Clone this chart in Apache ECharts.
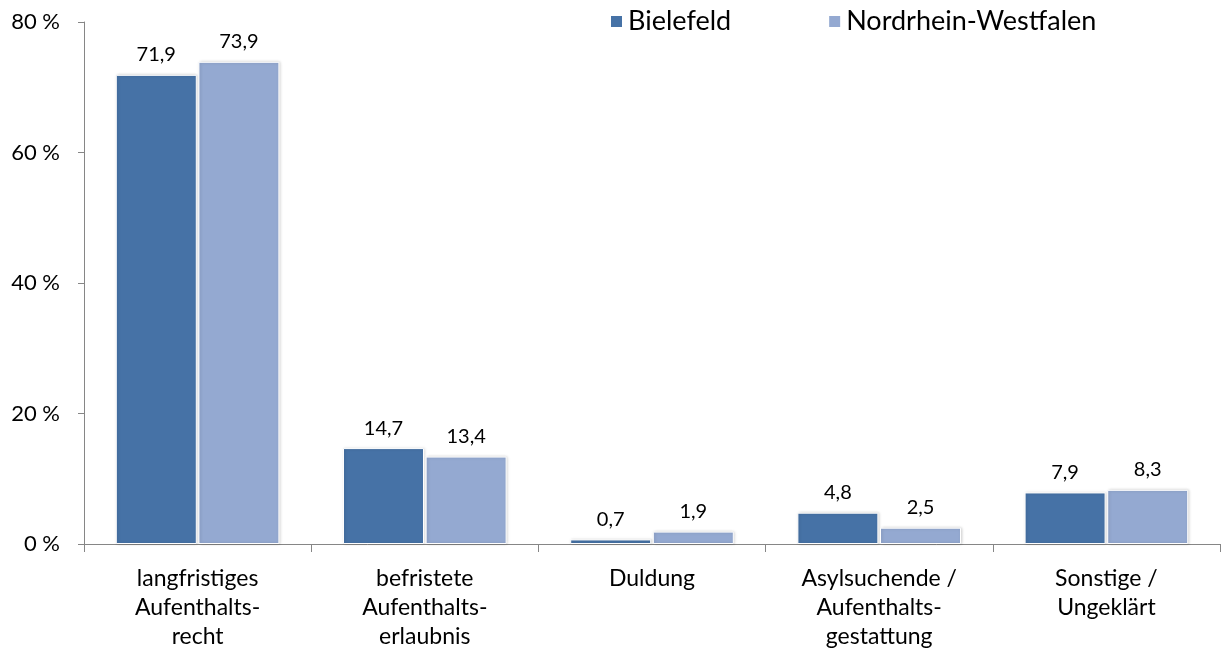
<!DOCTYPE html>
<html>
<head>
<meta charset="utf-8">
<script src="https://cdn.jsdelivr.net/npm/echarts@6/dist/echarts.min.js"></script>
<style>
  html, body { margin: 0; padding: 0; background: #fff; }
  #chart { width: 1221px; height: 652px; }
</style>
</head>
<body>
<div id="chart"></div>
<script>
// Kategorien und Werte (Prozent)
const categories = [
  'langfristiges\nAufenthalts-\nrecht',
  'befristete\nAufenthalts-\nerlaubnis',
  'Duldung',
  'Asylsuchende /\nAufenthalts-\ngestattung',
  'Sonstige /\nUngeklärt'
]
const bielefeld = [71.9, 14.7, 0.7, 4.8, 7.9]
const nrw = [73.9, 13.4, 1.9, 2.5, 8.3]
const yTicks = [0, 20, 40, 60, 80]

const font = 'Lato, Open Sans, sans-serif'

const barLabel = {
  show: true,
  position: 'top',
  distance: 10,
  color: '#000',
  fontSize: 20,
  fontFamily: font,
  formatter: p => String(p.value).replace('.', ',')
}

const barStyle = color => ({
  color: color,
  borderColor: '#fff',
  borderWidth: 1,
  shadowColor: 'rgba(0,0,0,0.18)',
  shadowBlur: 3,
  shadowOffsetX: 1
})

const chart = echarts.init(document.getElementById('chart'))
chart.setOption({
  animation: false,
  legend: {
    top: 3,
    left: 604,
    itemWidth: 13,
    itemHeight: 13,
    itemGap: 96,
    icon: 'rect',
    textStyle: { fontSize: 27, fontFamily: font, color: '#000' },
    data: ['Bielefeld', 'Nordrhein-Westfalen']
  },
  grid: { left: 84, right: 1, top: 22, bottom: 108, containLabel: false },
  xAxis: {
    type: 'category',
    data: categories,
    axisLine: { lineStyle: { color: '#868686' } },
    axisTick: { show: true, length: 8, lineStyle: { color: '#868686' } },
    axisLabel: {
      interval: 0,
      margin: 20,
      color: '#000',
      fontSize: 23,
      lineHeight: 29,
      fontFamily: font
    }
  },
  yAxis: {
    type: 'value',
    min: yTicks[0],
    max: yTicks[yTicks.length - 1],
    interval: 20,
    splitLine: { show: false },
    axisLine: { show: true, lineStyle: { color: '#868686' } },
    axisTick: { show: true, length: 6, lineStyle: { color: '#868686' } },
    axisLabel: {
      color: '#000',
      fontSize: 22,
      fontFamily: font,
      margin: 24,
      formatter: v => v + ' %'
    }
  },
  series: [
    {
      name: 'Bielefeld',
      type: 'bar',
      data: bielefeld,
      barWidth: 81,
      barGap: '2%',
      itemStyle: barStyle('#4672A6'),
      label: barLabel
    },
    {
      name: 'Nordrhein-Westfalen',
      type: 'bar',
      data: nrw,
      barWidth: 81,
      itemStyle: barStyle('#94A9D1'),
      label: barLabel
    }
  ]
})
</script>
</body>
</html>
